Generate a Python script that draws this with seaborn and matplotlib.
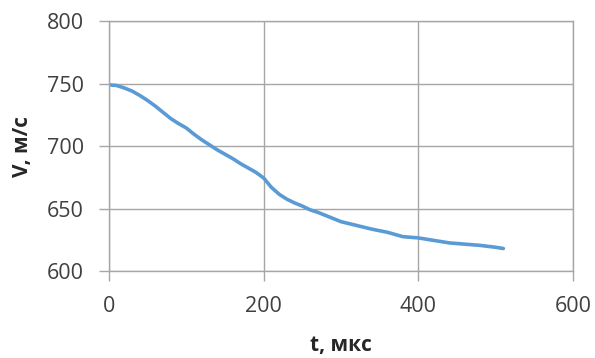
import pandas as pd
import matplotlib
matplotlib.use("Agg")
import matplotlib.pyplot as plt
import seaborn as sns

# data
t_mks = [0, 10, 20, 30, 40, 50, 60, 70, 80, 90, 100, 110, 120, 130, 140, 150,
         160, 170, 180, 190, 200, 210, 220, 230, 240, 250, 260, 270, 280, 290,
         300, 320, 340, 360, 380, 400, 420, 440, 460, 480, 500, 510]
v_ms = [749, 748.5, 746.5, 744, 740.5, 736.5, 732, 727, 722, 718, 714.5, 709.5,
        705, 701, 697, 693.5, 690, 686, 682.5, 679, 674.5, 667, 661.5, 657.5,
        654.5, 652, 649, 647, 644.5, 642, 639.5, 636.5, 633.5, 631, 627.5,
        626.5, 624.5, 622.5, 621.5, 620.5, 619, 618]
x_ticks = [0, 200, 400, 600]
y_ticks = [600, 650, 700, 750, 800]

df = pd.DataFrame({"t": t_mks, "V": v_ms})

sns.set_style("white")
plt.rcParams['font.family'] = ['Open Sans', 'DejaVu Sans']

fig = plt.figure(figsize=(5.95, 3.58), dpi=100)
ax = fig.add_axes([0.183, 0.243, 0.780, 0.698])

sns.lineplot(x="t", y="V", data=df, color="#5B9BD5", linewidth=2.6, ax=ax)

ax.set_xlim(0, 600)
ax.set_ylim(600, 800)
ax.set_xticks(x_ticks)
ax.set_yticks(y_ticks)
ax.grid(True, color="#a6a6a6", linewidth=1.0)
for s in ax.spines.values():
    s.set_color("#a6a6a6")
    s.set_linewidth(1.0)
ax.tick_params(axis="both", direction="out", length=7, width=1.0,
               bottom=True, left=True,
               color="#a6a6a6", labelsize=15.5, labelcolor="#404040")
ax.tick_params(axis="x", pad=11)
ax.tick_params(axis="y", pad=11)

ax.set_xlabel("t, мкс", fontsize=15, fontweight="bold", labelpad=13)
ax.set_ylabel("V, м/с", fontsize=15, fontweight="bold", labelpad=10)

fig.savefig("out.png", dpi=100)
